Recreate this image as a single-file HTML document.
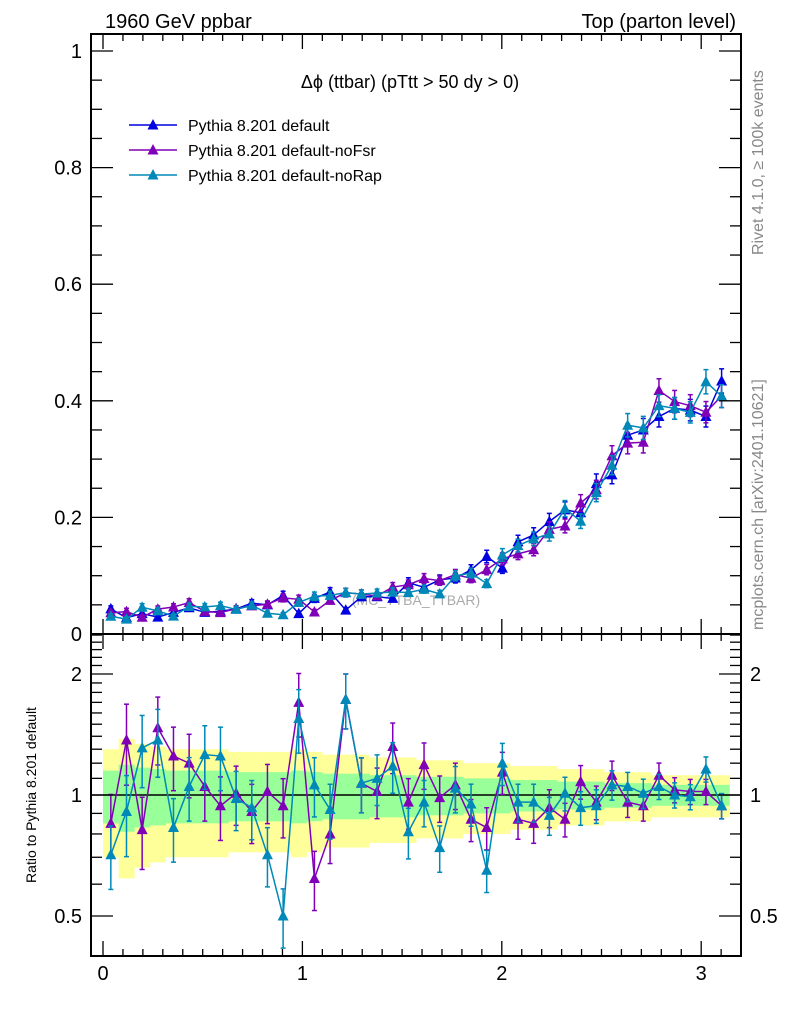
<!DOCTYPE html>
<html><head><meta charset="utf-8">
<style>
body{margin:0;background:#fff;}
svg{display:block;font-family:"Liberation Sans",sans-serif;}
</style></head>
<body>
<svg id="chart" width="786" height="1024" viewBox="0 0 786 1024" xmlns="http://www.w3.org/2000/svg">
<text x="105" y="28" font-size="20">1960 GeV ppbar</text>
<text x="736" y="28" font-size="20" text-anchor="end">Top (parton level)</text>
<text x="410" y="88" font-size="18" text-anchor="middle">Δϕ (ttbar) (pTtt &gt; 50 dy &gt; 0)</text>
<text x="416" y="605" font-size="14" fill="#aaaaaa" text-anchor="middle">(MC_TTBA_TTBAR)</text>
<text transform="translate(763,255) rotate(-90)" font-size="16" fill="#888">Rivet 4.1.0, ≥ 100k events</text>
<text transform="translate(763,630) rotate(-90)" font-size="16" fill="#888">mcplots.cern.ch [arXiv:2401.10621]</text>
<text transform="translate(36,795) rotate(-90)" font-size="14" text-anchor="middle">Ratio to Pythia 8.201 default</text>
<g id="bands"></g>
<g id="grid"></g>
<g id="series"></g>
<g id="axes"></g>
<g id="legend"></g>
</svg>
<script>
const categoriesCount = 40;
const xMin = 0, xMax = Math.PI;
const defaultValues = [.043,.028,.035,.029,.037,.045,.037,.039,.043,.053,.050,.066,.035,.061,.072,.041,.064,.064,.061,.088,.080,.093,.096,.110,.133,.113,.158,.170,.193,.213,.208,.258,.273,.341,.350,.373,.387,.384,.373,.434];
const ratioNoFsr = [.85,1.37,.82,1.47,1.25,1.2,1.05,.94,1.01,.91,1.02,.94,1.70,.62,.80,1.73,1.07,1.02,1.32,.96,1.19,.985,1.06,.87,.83,1.14,.87,.85,.93,.87,1.08,.96,1.12,.96,.94,1.12,1.03,1.02,1.02,.94];
const ratioNoRap = [.71,.91,1.31,1.37,.83,1.05,1.26,1.25,.98,.93,.71,.50,1.55,1.06,.92,1.73,1.07,1.10,1.18,.81,.96,.74,1.04,.95,.65,1.2,.96,.96,.89,1.01,.93,.94,1.06,1.05,1.01,1.05,1.0,.99,1.16,.94];
const relErr = [.15,.19,.17,.16,.15,.15,.15,.15,.14,.14,.14,.14,.15,.14,.13,.13,.13,.12,.12,.12,.11,.11,.11,.10,.10,.10,.09,.09,.09,.08,.08,.08,.07,.07,.07,.06,.06,.06,.06,.06];
const xTickLabels = ["0","1","2","3"];
const yTickLabels = ["0","0.2","0.4","0.6","0.8","1"];
const ratioTickLabels = ["0.5","1","2"];
const seriesNames = ["Pythia 8.201 default","Pythia 8.201 default-noFsr","Pythia 8.201 default-noRap"];
const seriesColors = ["#0000e0","#8000b8","#0088b8"];

const NS="http://www.w3.org/2000/svg";
const L=91,R=741,MT=34,MB=634,RT=634,RB=956;
const X=v=>103+v*199.4;
const Y=v=>634-v*583;
const YR=r=>795-Math.log2(r)*121;
function mk(tag,attrs,parent){const e=document.createElementNS(NS,tag);for(const k in attrs)e.setAttribute(k,attrs[k]);parent.appendChild(e);return e;}
const bw=(xMax-xMin)/categoriesCount;
const centers=defaultValues.map((_,i)=>xMin+(i+0.5)*bw);
const noFsr=defaultValues.map((v,i)=>v*ratioNoFsr[i]);
const noRap=defaultValues.map((v,i)=>v*ratioNoRap[i]);
const svg=document.getElementById('chart');
const defs=mk('defs',{},svg);
const cp=mk('clipPath',{id:'rclip'},defs);mk('rect',{x:L,y:RT,width:R-L,height:RB-RT},cp);
const cpm=mk('clipPath',{id:'mclip'},defs);mk('rect',{x:L,y:MT,width:R-L,height:MB-MT},cpm);

const bands=document.getElementById('bands');
bands.setAttribute('clip-path','url(#rclip)');
for(let i=0;i<categoriesCount;i++){
  const x0=X(xMin+i*bw),x1=X(xMin+(i+1)*bw),e=relErr[i];
  const y1=mk('rect',{x:x0,y:YR(1+2*e),width:x1-x0+0.3,height:YR(Math.max(1-2*e,0.3))-YR(1+2*e),fill:'#ffff99'},bands);
  
  
}
for(let i=0;i<categoriesCount;i++){
  const x0=X(xMin+i*bw),x1=X(xMin+(i+1)*bw),e=relErr[i];
  const g1=mk('rect',{x:x0,y:YR(1+e),width:x1-x0+0.3,height:YR(1-e)-YR(1+e),fill:'#99ff99'},bands);
  
  
}
mk('line',{x1:L,x2:R,y1:YR(1),y2:YR(1),stroke:'#000','stroke-width':1.5},bands);

const sg=document.getElementById('series');
function tri(g,cx,cy,col){mk('polygon',{points:`${cx-5.5},${cy+4.5} ${cx+5.5},${cy+4.5} ${cx},${cy-6}`,fill:col},g);}
function drawSeries(vals,errs,col,name,yfun,clip){
  const g=mk('g',{'clip-path':clip},sg);
  
  
  mk('polyline',{points:vals.map((v,i)=>X(centers[i])+','+yfun(v)).join(' '),fill:'none',stroke:col,'stroke-width':1.5},g);
  vals.forEach((v,i)=>{
    const cx=X(centers[i]),hi=yfun(v+errs[i]),lo=yfun(Math.max(v-errs[i],1e-4));
    mk('line',{x1:cx,x2:cx,y1:hi,y2:lo,stroke:col,'stroke-width':1.5},g);
    mk('line',{x1:cx-2.5,x2:cx+2.5,y1:hi,y2:hi,stroke:col,'stroke-width':1.5},g);
    mk('line',{x1:cx-2.5,x2:cx+2.5,y1:lo,y2:lo,stroke:col,'stroke-width':1.5},g);
    tri(g,cx,yfun(v),col);
  });
}
drawSeries(defaultValues,defaultValues.map((v,i)=>v*relErr[i]*0.8),seriesColors[0],'series-default',Y,'url(#mclip)');
drawSeries(noFsr,noFsr.map((v,i)=>v*relErr[i]*0.8),seriesColors[1],'series-nofsr',Y,'url(#mclip)');
drawSeries(noRap,noRap.map((v,i)=>v*relErr[i]*0.8),seriesColors[2],'series-norap',Y,'url(#mclip)');
drawSeries(ratioNoFsr,ratioNoFsr.map((v,i)=>v*relErr[i]*1.2),seriesColors[1],'ratio-nofsr',YR,'url(#rclip)');
drawSeries(ratioNoRap,ratioNoRap.map((v,i)=>v*relErr[i]*1.2),seriesColors[2],'ratio-norap',YR,'url(#rclip)');

const ax=document.getElementById('axes');
const f1=mk('rect',{x:L,y:MT,width:R-L,height:MB-MT,fill:'none',stroke:'#000','stroke-width':2},ax);

const f2=mk('rect',{x:L,y:RT,width:R-L,height:RB-RT,fill:'none',stroke:'#000','stroke-width':2},ax);

function ln(x1,y1,x2,y2){mk('line',{x1,y1,x2,y2,stroke:'#000','stroke-width':1.3},ax);}
for(let k=0;k<=32;k++){
  const v=k/10,x=X(v);if(x>R)break;const major=k%10===0,len=major?15:7;
  ln(x,MT,x,MT+len);ln(x,MB,x,MB-len);ln(x,RT,x,RT+len);ln(x,RB,x,RB-len);
}
xTickLabels.forEach(t=>{const x=X(parseFloat(t));const e=mk('text',{x,y:980,'font-size':20,'text-anchor':'middle'},ax);e.textContent=t;});
for(let k=0;k<=21;k++){const v=k*0.05,y=Y(v);if(y<MT)break;const major=k%4===0,len=major?22:11;ln(L,y,L+len,y);ln(R,y,R-len,y);}
yTickLabels.forEach(t=>{const e=mk('text',{x:82,y:Y(parseFloat(t))+7,'font-size':20,'text-anchor':'end'},ax);e.textContent=t;});
[0.5,0.6,0.7,0.8,0.9,1,1.1,1.2,1.3,1.4,1.5,1.6,1.7,1.8,1.9,2,2.1,2.2,2.3,2.4,2.5].forEach(r=>{const y=YR(r);if(y<RT||y>RB)return;const major=(r===0.5||r===1||r===2),len=major?22:11;ln(L,y,L+len,y);ln(R,y,R-len,y);});
ratioTickLabels.forEach(t=>{const y=YR(parseFloat(t))+7;
  const a=mk('text',{x:82,y,'font-size':20,'text-anchor':'end'},ax);a.textContent=t;
  const b=mk('text',{x:750,y,'font-size':20},ax);b.textContent=t;});

const lg=document.getElementById('legend');
seriesNames.forEach((n,i)=>{const y=125+i*25,c=seriesColors[i];
  const g=mk('g',{},lg);
  
  
  mk('line',{x1:129,x2:177,y1:y,y2:y,stroke:c,'stroke-width':1.5},g);
  tri(g,153,y,c);
  const t=mk('text',{x:188,y:y+6,'font-size':16},g);t.textContent=n;});
</script>
</body></html>
